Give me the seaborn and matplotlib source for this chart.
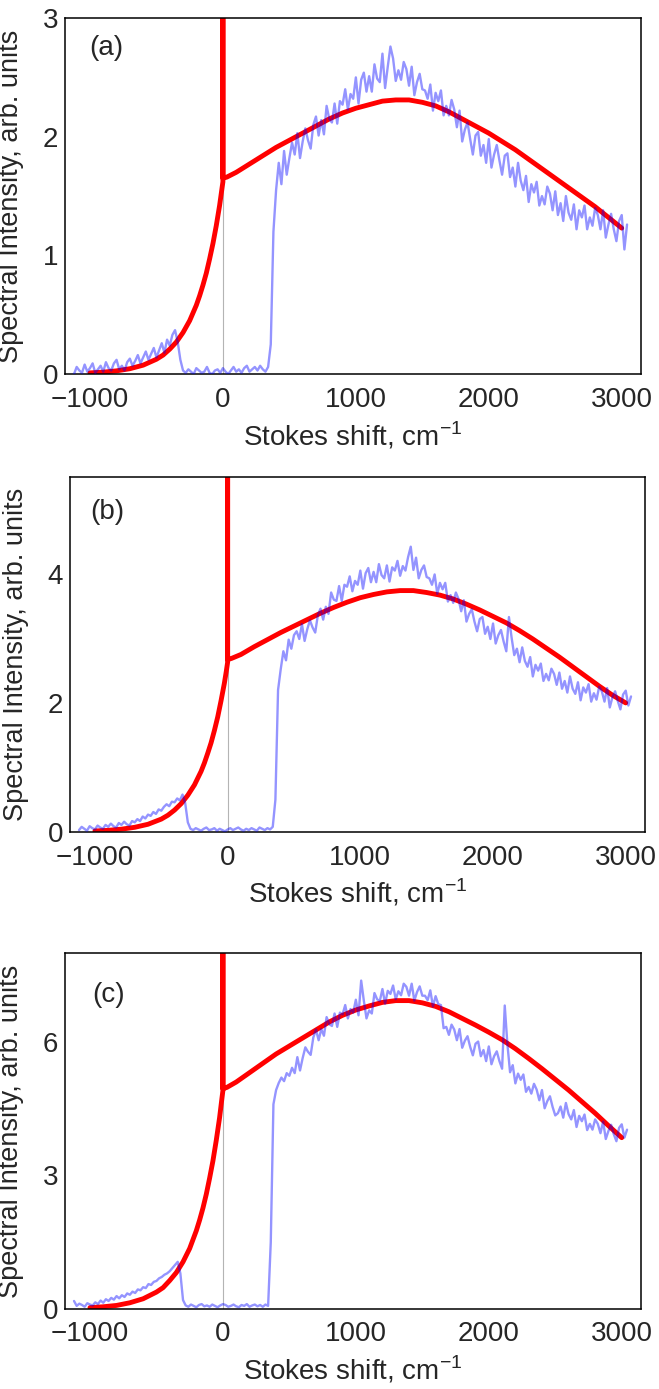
import numpy as np
import pandas as pd
import matplotlib
matplotlib.use("Agg")
import matplotlib.pyplot as plt
import seaborn as sns

sns.set_style("white")
plt.rcParams["font.family"] = ["Liberation Sans", "DejaVu Sans"]
plt.rcParams["mathtext.fontset"] = "custom"
plt.rcParams["mathtext.rm"] = "Liberation Sans"

# --- measured spectra (blue), sampled every 20 cm-1 from -1120 to 3040 ---
shift = np.arange(-1120, 3041, 20)

meas_a = [
    # -1120 .. -720
    0.00, 0.06, 0.03, 0.01, 0.08, 0.02, 0.05, 0.09, 0.01, 0.04, 0.07, 0.02, 0.10, 0.05, 0.03, 0.09, 0.12, 0.04, 0.07, 0.03, 0.10,
    # -700 .. -500
    0.13, 0.07, 0.11, 0.16, 0.09, 0.14, 0.19, 0.12, 0.17, 0.22, 0.14,
    # -480 .. -340
    0.20, 0.26, 0.18, 0.29, 0.24, 0.33, 0.37, 0.27,
    # -320 .. 340
    0.12, 0.03, 0.01, 0.04, 0.02, 0.00, 0.05, 0.03, 0.01, 0.02, 0.06, 0.01, 0.00, 0.03, 0.04, 0.01, 0.05,
    0.02, 0.00, 0.03, 0.06, 0.02, 0.04, 0.01, 0.05, 0.07, 0.02, 0.04, 0.06, 0.03, 0.07, 0.04, 0.02, 0.06,
    # 360 .. 500
    0.25, 1.20, 1.55, 1.78, 1.60, 1.88, 1.68, 1.82,
    # 520 .. 1000
    1.95, 1.85, 2.03, 1.82, 1.96, 2.07, 1.97, 1.90, 2.10, 2.17, 2.01, 2.14, 2.02, 2.26, 2.15, 2.12, 2.28,
    2.11, 2.30, 2.27, 2.40, 2.23, 2.36, 2.32, 2.50,
    # 1020 .. 1500
    2.28, 2.48, 2.54, 2.38, 2.51, 2.38, 2.61, 2.49, 2.46, 2.70, 2.41, 2.59, 2.76, 2.66, 2.47, 2.56, 2.48,
    2.63, 2.57, 2.43, 2.59, 2.35, 2.46, 2.53, 2.40,
    # 1520 .. 2000
    2.39, 2.32, 2.44, 2.22, 2.37, 2.30, 2.39, 2.18, 2.26, 2.18, 2.31, 2.23, 2.08, 2.22, 1.96, 2.06, 2.12,
    1.98, 1.85, 2.01, 2.04, 1.84, 1.93, 1.78, 1.98,
    # 2020 .. 2500
    1.74, 1.85, 1.93, 1.80, 1.68, 1.84, 1.86, 1.66, 1.74, 1.58, 1.78, 1.63, 1.55, 1.67, 1.45, 1.60, 1.53,
    1.62, 1.42, 1.50, 1.43, 1.58, 1.52, 1.38, 1.54,
    # 2520 .. 3040
    1.34, 1.44, 1.29, 1.50, 1.36, 1.30, 1.43, 1.22, 1.38, 1.32, 1.42, 1.22, 1.32, 1.25, 1.40, 1.34, 1.22,
    1.38, 1.15, 1.26, 1.35, 1.22, 1.12, 1.29, 1.34, 1.05, 1.26,
]

meas_b = [
    0.03, 0.08, 0.05, 0.02, 0.09, 0.06, 0.04, 0.10, 0.07, 0.05, 0.11, 0.08, 0.13, 0.09, 0.07, 0.14, 0.11, 0.16, 0.12, 0.10, 0.17,
    0.15, 0.20, 0.17, 0.24, 0.21, 0.27, 0.25, 0.31, 0.28, 0.35, 0.33,
    0.39, 0.43, 0.40, 0.47, 0.46, 0.52, 0.49, 0.58,
    0.45, 0.15, 0.05, 0.03, 0.06, 0.04, 0.02, 0.05, 0.07, 0.03, 0.04, 0.06, 0.02, 0.05, 0.03, 0.01, 0.04,
    0.06, 0.03, 0.05, 0.07, 0.04, 0.02, 0.05, 0.03, 0.06, 0.04, 0.02, 0.07, 0.05, 0.03, 0.06, 0.04, 0.08,
    0.50, 2.20, 2.52, 2.80, 2.66, 2.98, 2.84, 3.05,
    3.11, 2.99, 3.22, 2.96, 3.14, 3.28, 3.17, 3.09, 3.36, 3.46, 3.29, 3.49, 3.38, 3.71, 3.60, 3.58, 3.81,
    3.58, 3.83, 3.80, 3.96, 3.73, 3.89, 3.83, 4.05,
    3.77, 4.01, 4.09, 3.87, 4.03, 3.87, 4.15, 3.98, 3.93, 4.13, 3.88, 4.10, 4.05, 4.20, 3.97, 4.12, 4.05,
    4.26, 4.42, 4.06, 4.25, 3.93, 4.06, 4.13, 3.95,
    3.93, 3.83, 3.99, 3.69, 3.86, 3.76, 3.86, 3.57, 3.67, 3.55, 3.71, 3.61, 3.42, 3.59, 3.26, 3.38, 3.45,
    3.26, 3.11, 3.30, 3.33, 3.07, 3.18, 2.99, 3.23,
    2.92, 3.05, 3.13, 2.95, 2.80, 3.33, 3.01, 2.74, 2.84, 2.63, 2.86, 2.65, 2.56, 2.71, 2.41, 2.59, 2.50,
    2.61, 2.34, 2.45, 2.35, 2.53, 2.45, 2.28, 2.47,
    2.22, 2.34, 2.16, 2.41, 2.22, 2.14, 2.32, 2.04, 2.24, 2.16, 2.29, 2.02, 2.15, 2.05, 2.25, 2.18, 2.02,
    2.23, 1.93, 2.09, 2.18, 2.03, 1.90, 2.13, 2.19, 1.96, 2.10,
]

meas_c = [
    0.18, 0.07, 0.12, 0.09, 0.05, 0.13, 0.10, 0.08, 0.15, 0.11, 0.19, 0.14, 0.22, 0.18, 0.25, 0.21, 0.29, 0.24, 0.31, 0.27, 0.35,
    0.32, 0.39, 0.36, 0.44, 0.42, 0.49, 0.47, 0.56, 0.54, 0.61, 0.63,
    0.69, 0.72, 0.77, 0.80, 0.85, 0.92, 0.99, 1.06,
    0.80, 0.20, 0.08, 0.05, 0.10, 0.07, 0.04, 0.09, 0.11, 0.06, 0.08, 0.05, 0.10, 0.07, 0.04, 0.08, 0.11,
    0.09, 0.05, 0.07, 0.10, 0.06, 0.04, 0.09, 0.07, 0.11, 0.05, 0.08, 0.10, 0.06, 0.09, 0.05, 0.10, 0.07,
    1.50, 4.60, 4.92, 5.08, 5.20, 5.12, 5.30, 5.24,
    5.42, 5.30, 5.66, 5.36, 5.64, 5.88, 5.78, 5.71, 6.10, 6.28, 6.04, 6.29, 6.14, 6.56, 6.40, 6.36, 6.64,
    6.34, 6.66, 6.62, 6.83, 6.53, 6.74, 6.66, 6.95,
    6.60, 7.38, 6.93, 6.53, 6.71, 6.64, 7.10, 6.96, 6.92, 7.19, 6.86, 7.15, 7.08, 7.27, 6.96, 7.14, 7.05,
    7.31, 7.24, 7.04, 7.31, 6.93, 7.12, 7.25, 7.04,
    7.04, 6.94, 7.16, 6.80, 7.03, 6.85, 6.83, 6.31, 6.34, 6.16, 6.39, 6.28, 6.04, 6.29, 5.87, 6.03, 6.13,
    5.89, 5.70, 5.96, 6.01, 5.68, 5.82, 5.57, 5.90,
    5.50, 5.68, 5.79, 5.57, 5.40, 6.82, 5.95, 5.32, 5.48, 5.07, 5.29, 5.15, 5.27, 4.88, 4.99, 4.84, 5.06,
    4.93, 4.69, 4.92, 4.51, 4.67, 4.78, 4.54, 4.35,
    4.40, 4.55, 4.30, 4.63, 4.38, 4.26, 4.47, 4.09, 4.34, 4.22, 4.37, 4.02, 4.16, 4.03, 4.26, 4.16, 3.95,
    4.21, 3.82, 4.00, 4.14, 3.93, 3.77, 4.07, 4.15, 3.85, 4.03,
]

# --- model curves (red): anti-Stokes wing, zero-phonon spike at 0, Stokes band ---
model_x = [-1000, -900, -800, -700, -600, -500, -450, -400, -350, -300, -250, -200, -175, -150, -125,
           -100, -75, -50, -25, -10, 0,
           0,
           0, 30, 100, 200, 300, 400, 500, 600, 700, 800, 900, 1000, 1100, 1200, 1300, 1400, 1500,
           1600, 1700, 1800, 1900, 2000, 2100, 2200, 2300, 2400, 2500, 2600, 2700, 2800, 2900, 3000]

model_a = [0.010, 0.016, 0.027, 0.045, 0.075, 0.125, 0.16, 0.21, 0.27, 0.35, 0.45, 0.58, 0.66, 0.75, 0.85,
           0.97, 1.10, 1.25, 1.42, 1.54, 1.62,
           20.0,
           1.65, 1.66, 1.70, 1.77, 1.84, 1.91, 1.97, 2.03, 2.09, 2.15, 2.20, 2.24, 2.27, 2.30, 2.31, 2.31, 2.29,
           2.26, 2.21, 2.15, 2.09, 2.03, 1.96, 1.89, 1.81, 1.73, 1.65, 1.57, 1.49, 1.41, 1.32, 1.23]

model_b = [0.016, 0.026, 0.044, 0.073, 0.12, 0.20, 0.26, 0.34, 0.44, 0.57, 0.73, 0.94, 1.07, 1.22, 1.38,
           1.57, 1.78, 2.03, 2.30, 2.49, 2.63,
           30.0,
           2.67, 2.69, 2.75, 2.87, 2.98, 3.09, 3.19, 3.29, 3.39, 3.48, 3.56, 3.63, 3.68, 3.72, 3.74, 3.74, 3.71,
           3.67, 3.61, 3.53, 3.44, 3.34, 3.24, 3.12, 2.99, 2.85, 2.71, 2.56, 2.41, 2.26, 2.12, 2.00]

model_c = [0.03, 0.05, 0.08, 0.14, 0.23, 0.38, 0.48, 0.64, 0.82, 1.06, 1.36, 1.76, 2.00, 2.27, 2.58,
           2.94, 3.33, 3.79, 4.30, 4.67, 4.91,
           40.0,
           4.95, 4.98, 5.10, 5.31, 5.52, 5.73, 5.91, 6.09, 6.27, 6.45, 6.60, 6.72, 6.81, 6.89, 6.93, 6.93, 6.88,
           6.80, 6.68, 6.53, 6.38, 6.22, 6.05, 5.85, 5.63, 5.40, 5.16, 4.92, 4.66, 4.40, 4.12, 3.85]

panel_labels = ["(a)", "(b)", "(c)"]
y_tops = [3.0, 5.5, 8.0]
y_ticks = [[0, 1, 2, 3], [0, 2, 4], [0, 3, 6]]
x_ticks = [-1000, 0, 1000, 2000, 3000]

# axes rectangles (figure fraction) and label spots
rects = [[0.0986, 0.7307, 0.8741, 0.2563],
         [0.1062, 0.4010, 0.8725, 0.2556],
         [0.0986, 0.0576, 0.8741, 0.2563]]
label_pos = [(0.043, 0.916), (0.035, 0.900), (0.047, 0.882)]

fig = plt.figure(figsize=(6.59, 13.89), dpi=100)

for i, (meas, model) in enumerate([(meas_a, model_a), (meas_b, model_b), (meas_c, model_c)]):
    ax = fig.add_axes(rects[i])
    ax.axvline(0, color="#b4b4b4", lw=0.8, zorder=1)
    df_model = pd.DataFrame({"x": model_x, "y": model})
    sns.lineplot(data=df_model, x="x", y="y", sort=False, estimator=None,
                 color="#ff0000", lw=3.5, ax=ax, zorder=2)
    df_meas = pd.DataFrame({"x": shift, "y": meas})
    sns.lineplot(data=df_meas, x="x", y="y", sort=False, estimator=None,
                 color="#0000ff", alpha=0.42, lw=1.7, ax=ax, zorder=3)

    ax.set_xlim(-1188, 3145)
    ax.set_ylim(0, y_tops[i])
    ax.set_xticks(x_ticks)
    ax.set_yticks(y_ticks[i])
    ax.tick_params(direction="in", length=3, width=1, labelsize=20,
                   top=False, right=False)
    ax.tick_params(axis="x", pad=9)
    ax.tick_params(axis="y", pad=5)
    for s in ax.spines.values():
        s.set_color("black")
        s.set_linewidth(1.1)
    ax.set_xlabel(r"Stokes shift, cm$^{\mathregular{-1}}$", fontsize=20, labelpad=5)
    ax.set_ylabel("Spectral Intensity, arb. units", fontsize=19.5)
    ax.yaxis.set_label_coords(-0.072, 0.5)
    ax.text(label_pos[i][0], label_pos[i][1], panel_labels[i], transform=ax.transAxes,
            fontsize=20, ha="left", va="center")

plt.savefig("out.png", dpi=100)
plt.close()
